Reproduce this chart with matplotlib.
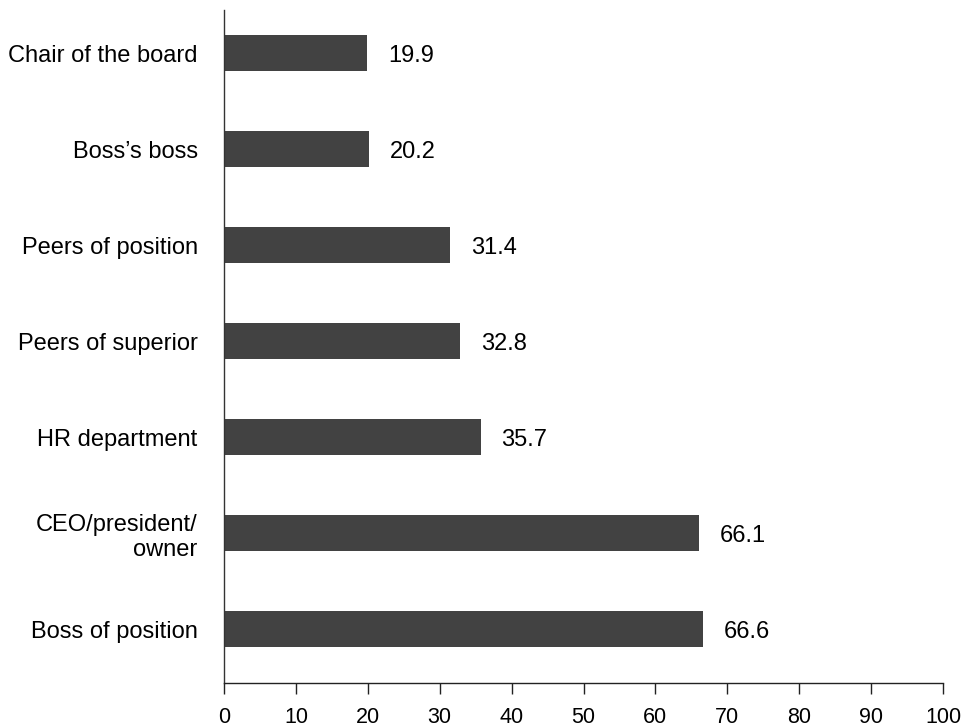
import numpy as np
import matplotlib
matplotlib.use("Agg")
import matplotlib.pyplot as plt

plt.rcParams['font.family'] = ['Liberation Sans', 'DejaVu Sans']

# categories from bottom to top
categories = ['Boss of position', 'CEO/president/\nowner', 'HR department',
              'Peers of superior', 'Peers of position', "Boss\u2019s boss",
              'Chair of the board']
values = [66.6, 66.1, 35.7, 32.8, 31.4, 20.2, 19.9]
x_ticks = [0, 10, 20, 30, 40, 50, 60, 70, 80, 90, 100]

fig = plt.figure(figsize=(9.62, 7.27), dpi=100)
ax = fig.add_axes([0.2329, 0.0605, 0.7473, 0.9257])

y = np.arange(len(categories))
ax.barh(y, values, height=0.375, color='#424242')

for yi, v in zip(y, values):
    ax.annotate(f'{v:.1f}', xy=(v, yi), xytext=(15, -2), textcoords='offset points',
                ha='left', va='center', fontsize=17, color='black')

ax.set_xlim(0, 100)
ax.set_ylim(-0.5625, 6.448)
ax.set_xticks(x_ticks)
ax.set_xticklabels([str(t) for t in x_ticks], fontsize=15.5)
ax.set_yticks(y)
ax.set_yticklabels(categories, fontsize=17, ha='right', multialignment='right')

ax.tick_params(axis='x', direction='out', length=8, width=1, pad=9, color='#222222')
ax.tick_params(axis='y', length=0, pad=19)

for s in ['top', 'right']:
    ax.spines[s].set_visible(False)
ax.spines['left'].set_color('#333333')
ax.spines['bottom'].set_color('#222222')
ax.spines['left'].set_linewidth(1)
ax.spines['bottom'].set_linewidth(1)

fig.savefig('out.png', dpi=100)
